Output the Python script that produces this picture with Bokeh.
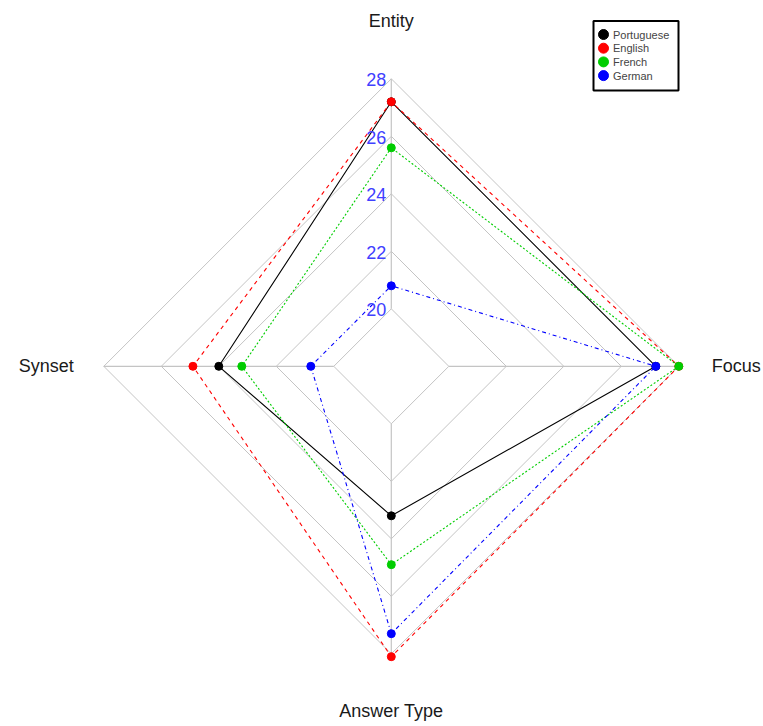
import numpy as np
from bokeh.plotting import figure
from bokeh.models import Range1d
from bokeh.core.properties import value
from bokeh.embed import file_html
from bokeh.resources import INLINE

# ---- data ----
categories = ["Entity", "Synset", "Answer Type", "Focus"]
languages = ["Portuguese", "English", "French", "German"]
portuguese = [27.2, 24.0, 23.2, 27.2]
english = [27.2, 24.9, 28.1, 28.0]
french = [25.6, 23.2, 24.9, 28.0]
german = [20.8, 20.8, 27.3, 27.2]
tick_values = [20, 22, 24, 26, 28]
tick_labels = ["20", "22", "24", "26", "28"]
vmin, vmax, seg = 20, 28, 4

series = [portuguese, english, french, german]
colors = ["#000000", "#FF0000", "#00CD00", "#0000FF"]
dashes = ["solid", "4 4", "2 2", "1 3 4 3"]

# ---- layout (pixels) ----
W, H = 763, 726
CX, CY = 390.8, 365.8
R = 287.5
FONT = "Liberation Sans"

angles = np.deg2rad(90 + 90 * np.arange(len(categories)))


def radius(v):
    return (1 + seg * (np.asarray(v, dtype=float) - vmin) / (vmax - vmin)) / (seg + 1)


def px(x):
    return (x - CX) / R


def py(y):
    return (CY - y) / R


p = figure(width=W, height=H,
           x_range=Range1d(-CX / R, (W - CX) / R),
           y_range=Range1d(-(H - CY) / R, CY / R),
           output_backend="svg", toolbar_location=None, min_border=0,
           x_axis_location=None, y_axis_location=None)
p.grid.visible = False
p.outline_line_color = None
p.background_fill_color = "white"
p.border_fill_color = "white"

# grid rings
ring_xs, ring_ys = [], []
for k in range(1, seg + 2):
    r = k / (seg + 1)
    ring_xs.append(list(r * np.cos(angles)) + [r * np.cos(angles[0])])
    ring_ys.append(list(r * np.sin(angles)) + [r * np.sin(angles[0])])
p.multi_line(ring_xs, ring_ys, line_color="#C4C4C4", line_width=1)

# spokes
r0 = 1 / (seg + 1)
p.segment(x0=r0 * np.cos(angles), y0=r0 * np.sin(angles),
          x1=np.cos(angles), y1=np.sin(angles),
          line_color="#C4C4C4", line_width=1.2)

# series
for vals, col, dash in zip(series, colors, dashes):
    r = radius(vals)
    xs = list(r * np.cos(angles))
    ys = list(r * np.sin(angles))
    p.line(xs + [xs[0]], ys + [ys[0]], line_color=col, line_width=1.1, line_dash=dash)
    p.scatter(xs, ys, size=8, fill_color=col, line_color=col, marker="circle")

# tick labels along the top axis
tr = radius(tick_values)
p.text(x=tr * np.cos(angles[0]), y=tr * np.sin(angles[0]), text=tick_labels,
       text_align="right", text_baseline="middle", x_offset=-5, y_offset=1,
       text_font=value(FONT), text_font_size="18px", text_color="#4040FF")

# category labels
lr = 1.2
p.text(x=lr * np.cos(angles), y=lr * np.sin(angles), text=categories,
       text_align="center", text_baseline="middle",
       text_font=value(FONT), text_font_size="18px", text_color="#1A1A1A")

# legend (manual, positioned in pixels)
LEFT, RIGHT, TOP, BOTTOM = 593.0, 678.0, 20.5, 90.0
ROW0, ROWSTEP = 34.0, 13.7
MARK_X, TEXT_X = 603.0, 612.5
p.quad(left=[px(LEFT)], right=[px(RIGHT)], top=[py(TOP)], bottom=[py(BOTTOM)],
       fill_color="white", line_color="black", line_width=2)
rows = np.array([ROW0 + i * ROWSTEP for i in range(len(languages))])
p.scatter(x=[px(MARK_X)] * len(languages), y=py(rows), size=10,
          fill_color=colors, line_color=colors, marker="circle")
p.text(x=[px(TEXT_X)] * len(languages), y=py(rows), text=languages,
       text_align="left", text_baseline="middle",
       text_font=value(FONT), text_font_size="11px", text_color="#444444")

open("out.html", "w").write(file_html(p, INLINE))
